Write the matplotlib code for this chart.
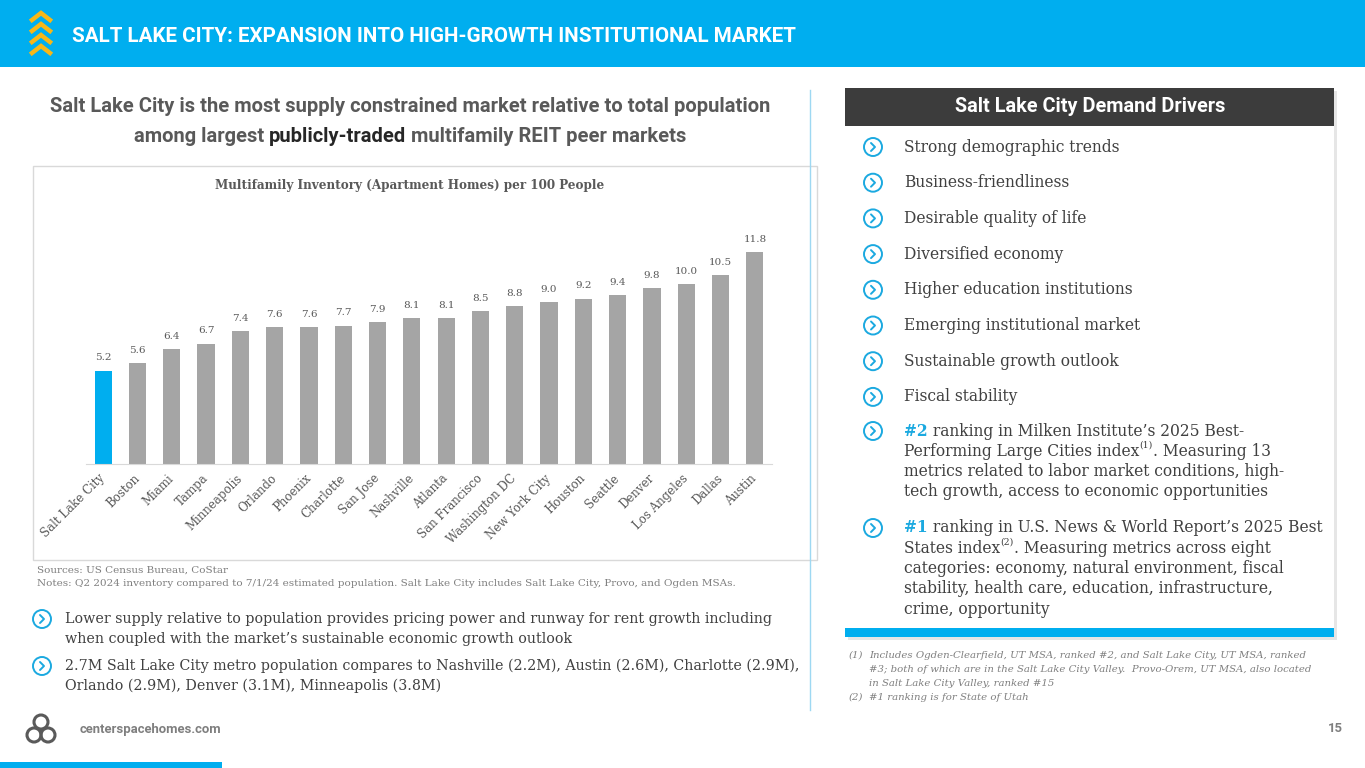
import matplotlib
matplotlib.use("Agg")
import matplotlib.pyplot as plt
from matplotlib import font_manager
from matplotlib.patches import Rectangle, Circle

# ---- data ----
cities = ["Salt Lake City", "Boston", "Miami", "Tampa", "Minneapolis", "Orlando",
          "Phoenix", "Charlotte", "San Jose", "Nashville", "Atlanta", "San Francisco",
          "Washington DC", "New York City", "Houston", "Seattle", "Denver",
          "Los Angeles", "Dallas", "Austin"]
inventory = [5.2, 5.6, 6.4, 6.7, 7.4, 7.6, 7.6, 7.7, 7.9, 8.1, 8.1, 8.5, 8.8,
             9.0, 9.2, 9.4, 9.8, 10.0, 10.5, 11.8]

drivers = ["Strong demographic trends", "Business-friendliness",
           "Desirable quality of life", "Diversified economy",
           "Higher education institutions", "Emerging institutional market",
           "Sustainable growth outlook", "Fiscal stability"]

title = "SALT LAKE CITY: EXPANSION INTO HIGH-GROWTH INSTITUTIONAL MARKET"
chart_title = "Multifamily Inventory (Apartment Homes) per 100 People"

BLUE = "#00AEEF"
ICON = "#1BA9E0"
GREY_BAR = "#A5A5A5"
TXT = "#404040"
MID = "#595959"
LIGHT = "#7F7F7F"

W, H = 1365, 768

names = {f.name for f in font_manager.fontManager.ttflist}
COND = "Liberation Sans Narrow" if "Liberation Sans Narrow" in names else "Roboto"
SERIF = ["DejaVu Serif"]
SANS = ["Roboto", "DejaVu Sans"]

fig = plt.figure(figsize=(W / 100, H / 100), dpi=100)
r = fig.canvas.get_renderer()

# background axes in pixel coordinates (y downwards)
bg = fig.add_axes([0, 0, 1, 1], zorder=0)
bg.set_xlim(0, W)
bg.set_ylim(H, 0)
bg.axis("off")


def fit(s, target, **kw):
    t = bg.text(0, 0, s, fontsize=10, **kw)
    w = t.get_window_extent(r).width
    t.remove()
    return 10 * target / w


def runs(x, y, parts, size, family, ha="left"):
    # parts: (text, color, weight, scale, dy)
    texts = []
    total = 0
    for s, c, wt, sc, dy in parts:
        t = bg.text(0, y + dy, s, fontsize=size * sc, color=c, weight=wt,
                    family=family, va="center", ha="left")
        w = t.get_window_extent(r).width
        texts.append((t, w, dy))
        total += w
    cx = x - total / 2 if ha == "center" else x
    for t, w, dy in texts:
        t.set_position((cx, y + dy))
        cx += w


def icon(x, y, rad=9):
    bg.add_patch(Circle((x, y), rad, facecolor="white", edgecolor=ICON, lw=1.4))
    bg.plot([x - 2, x + 2, x - 2], [y - 4, y, y + 4], color=ICON, lw=1.4,
            solid_capstyle="round", solid_joinstyle="round")


# ---- header ----
bg.add_patch(Rectangle((0, 0), W, 67, color=BLUE, lw=0))
for k in range(4):
    y0 = 13 + k * 11
    bg.plot([32, 41, 50], [y0 + 7, y0, y0 + 7], color="#F7B718", lw=3.2,
            solid_joinstyle="miter")
ts = fit(title, 723, family=COND, weight="bold")
bg.text(72, 36, title, fontsize=ts, family=COND, weight="bold", color="white",
        va="center", ha="left")

# ---- subtitle ----
sub1 = "Salt Lake City is the most supply constrained market relative to total population"
ss = fit(sub1, 723, family=COND, weight="bold")
runs(410, 106, [(sub1, MID, "bold", 1, 0)], ss, COND, ha="center")
runs(410, 137, [("among largest ", MID, "bold", 1, 0),
                ("publicly-traded", "#262626", "bold", 1, 0),
                (" multifamily REIT peer markets", MID, "bold", 1, 0)], ss, COND, ha="center")

# ---- chart box ----
bg.add_patch(Rectangle((33, 166), 784, 394, facecolor="white", edgecolor="#D9D9D9", lw=1))
cs = fit(chart_title, 392, family=SERIF, weight="bold")
bg.text(410, 186, chart_title, fontsize=cs, family=SERIF, weight="bold", color=MID,
        ha="center", va="center")

ax = fig.add_axes([86 / W, 1 - 464 / H, 686 / W, 233.6 / H], zorder=1)
ax.patch.set_alpha(0)
colors = [BLUE] + [GREY_BAR] * (len(cities) - 1)
bars = ax.bar(range(len(cities)), inventory, width=0.5, color=colors)
ax.set_xlim(-0.5, len(cities) - 0.5)
ax.set_ylim(0, 13)
for sp in ["top", "left", "right"]:
    ax.spines[sp].set_visible(False)
ax.spines["bottom"].set_color("#D9D9D9")
ax.set_yticks([])
ax.set_xticks(range(len(cities)))
tk = fit("Salt Lake City", 84, family=SERIF)
ax.set_xticklabels(cities, rotation=45, ha="right", va="center", rotation_mode="anchor",
                   fontsize=tk, family=SERIF, color=MID)
ax.tick_params(axis="x", length=0, pad=9)
vs = fit("10.0", 23, family=SERIF)
ax.bar_label(bars, fmt="%.1f", padding=6, fontsize=vs, family=SERIF, color=MID)

# sources
ns = fit("Notes: Q2 2024 inventory compared to 7/1/24 estimated population. Salt Lake City "
         "includes Salt Lake City, Provo, and Ogden MSAs.", 698, family=SERIF)
bg.text(37, 570, "Sources: US Census Bureau, CoStar", fontsize=ns, family=SERIF,
        color=LIGHT, va="center")
bg.text(37, 584, "Notes: Q2 2024 inventory compared to 7/1/24 estimated population. Salt Lake "
        "City includes Salt Lake City, Provo, and Ogden MSAs.", fontsize=ns, family=SERIF,
        color=LIGHT, va="center")

# left bullets
left_bullets = [
    ["Lower supply relative to population provides pricing power and runway for rent growth including",
     "when coupled with the market’s sustainable economic growth outlook"],
    ["2.7M Salt Lake City metro population compares to Nashville (2.2M), Austin (2.6M), Charlotte (2.9M),",
     "Orlando (2.9M), Denver (3.1M), Minneapolis (3.8M)"],
]
ls = fit(left_bullets[0][0], 710, family=SERIF)
for y0, lines in zip([619, 666], left_bullets):
    icon(42, y0)
    for i, line in enumerate(lines):
        bg.text(65, y0 + i * 19.5, line, fontsize=ls, family=SERIF, color=TXT, va="center")

# divider
bg.plot([810, 810], [90, 710], color="#9ED8F2", lw=1)

# ---- right panel ----
bg.add_patch(Rectangle((848, 91), 489, 549, facecolor="#E6E6E6", lw=0))
bg.add_patch(Rectangle((845, 88), 489, 549, facecolor="white", lw=0))
bg.add_patch(Rectangle((845, 88), 489, 38, facecolor="#3C3C3C", lw=0))
bg.add_patch(Rectangle((845, 628), 489, 9, facecolor=BLUE, lw=0))
hs = fit("Salt Lake City Demand Drivers", 270, family=COND, weight="bold")
bg.text(1090, 107, "Salt Lake City Demand Drivers", fontsize=hs, family=COND,
        weight="bold", color="white", ha="center", va="center")

ps = fit(drivers[0], 219, family=SERIF)
for i, d in enumerate(drivers):
    y0 = 147 + i * 35.7
    icon(873, y0)
    bg.text(904, y0, d, fontsize=ps, family=SERIF, color=TXT, va="center")

sup = (TXT, "normal", 0.6, -6)
para1 = [
    [("#2", ICON, "bold", 1, 0), (" ranking in Milken Institute’s 2025 Best-", TXT, "normal", 1, 0)],
    [("Performing Large Cities index", TXT, "normal", 1, 0), ("(1)",) + sup,
     (". Measuring 13", TXT, "normal", 1, 0)],
    [("metrics related to labor market conditions, high-", TXT, "normal", 1, 0)],
    [("tech growth, access to economic opportunities", TXT, "normal", 1, 0)],
]
para2 = [
    [("#1", ICON, "bold", 1, 0), (" ranking in U.S. News & World Report’s 2025 Best", TXT, "normal", 1, 0)],
    [("States index", TXT, "normal", 1, 0), ("(2)",) + sup,
     (". Measuring metrics across eight", TXT, "normal", 1, 0)],
    [("categories: economy, natural environment, fiscal", TXT, "normal", 1, 0)],
    [("stability, health care, education, infrastructure,", TXT, "normal", 1, 0)],
    [("crime, opportunity", TXT, "normal", 1, 0)],
]
for y0, para in [(431, para1), (528, para2)]:
    icon(873, y0)
    for i, parts in enumerate(para):
        runs(904, y0 + i * 20.3, parts, ps, SERIF)

# footnotes
fn1 = ["Includes Ogden-Clearfield, UT MSA, ranked #2, and Salt Lake City, UT MSA, ranked",
       "#3; both of which are in the Salt Lake City Valley.  Provo-Orem, UT MSA, also located",
       "in Salt Lake City Valley, ranked #15"]
fs = fit(fn1[0], 434, family=SERIF, style="italic")
bg.text(849, 655, "(1)", fontsize=fs, family=SERIF, style="italic", color=LIGHT, va="center")
for i, line in enumerate(fn1):
    bg.text(869, 655 + i * 14, line, fontsize=fs, family=SERIF, style="italic",
            color=LIGHT, va="center")
bg.text(849, 697, "(2)", fontsize=fs, family=SERIF, style="italic", color=LIGHT, va="center")
bg.text(869, 697, "#1 ranking is for State of Utah", fontsize=fs, family=SERIF,
        style="italic", color=LIGHT, va="center")

# ---- footer ----
for cx, cy in [(41, 722), (34, 735), (48, 735)]:
    bg.add_patch(Circle((cx, cy), 7, facecolor="none", edgecolor="#5A5A5A", lw=2.2))
fts = fit("centerspacehomes.com", 142, family=SANS, weight="bold")
bg.text(80, 729, "centerspacehomes.com", fontsize=fts, family=SANS, weight="bold",
        color=LIGHT, va="center")
bg.text(1343, 729, "15", fontsize=fts, family=SANS, weight="bold", color=LIGHT,
        va="center", ha="right")
bg.add_patch(Rectangle((0, 762), 222, 6, facecolor=BLUE, lw=0))

fig.savefig("out.png", dpi=100)
